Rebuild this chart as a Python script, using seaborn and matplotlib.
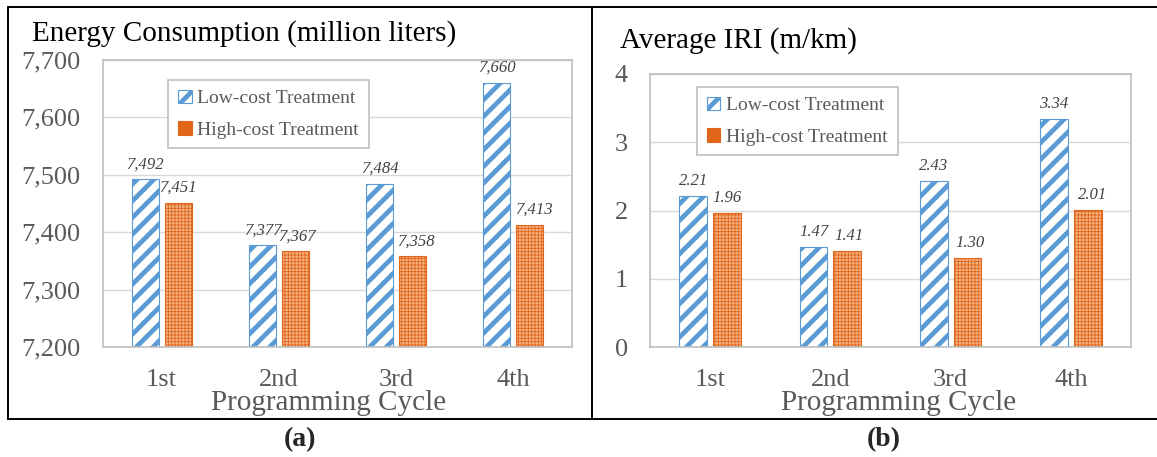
import numpy as np
import pandas as pd
import matplotlib
matplotlib.use("Agg")
import matplotlib.pyplot as plt
import seaborn as sns
from matplotlib.lines import Line2D

cycles = ['1st', '2nd', '3rd', '4th']
treatments = ['Low-cost Treatment', 'High-cost Treatment']
energy_low = [7492, 7377, 7484, 7660]
energy_high = [7451, 7367, 7358, 7413]
iri_low = [2.21, 1.47, 2.43, 3.34]
iri_high = [1.96, 1.41, 1.30, 2.01]

BLUE = '#5B9BD5'
ORANGE = '#ED7D31'
GRAY = '#595959'


def long_df(low, high):
    return pd.DataFrame({
        'Cycle': cycles * 2,
        'Treatment': [treatments[0]] * 4 + [treatments[1]] * 4,
        'Value': list(low) + list(high),
    })


sns.set_style("white")
plt.rcParams['font.family'] = ['Liberation Serif', 'DejaVu Serif']
plt.rcParams['hatch.linewidth'] = 3.4

W, H = 1157, 457
fig = plt.figure(figsize=(W / 100, H / 100), dpi=100)


def px_rect(x0, y0, x1, y1):
    return [x0 / W, 1 - y1 / H, (x1 - x0) / W, (y1 - y0) / H]


def draw_panel(ax, df, ylim, yticks, yfmt, lblfmt, legend_anchor):
    sns.barplot(data=df, x='Cycle', y='Value', hue='Treatment',
                hue_order=treatments, order=cycles, width=0.56, gap=0.18,
                ax=ax, legend=False, errorbar=None)
    low, high = ax.containers[0], ax.containers[1]
    for p in low:
        p.set_facecolor('white')
        p.set_edgecolor(BLUE)
        p.set_linewidth(0.8)
        p.set_hatch('//')
    for p in high:
        p.set_facecolor('#F4B183')
        p.set_edgecolor('#E0661A')
        p.set_linewidth(0.8)
        p.set_hatch('+++++')
        if hasattr(p, 'set_hatch_linewidth'):
            p.set_hatch_linewidth(0.6)
    ax.set_ylim(*ylim)
    ax.set_yticks(yticks)
    ax.set_yticklabels([yfmt.format(v) for v in yticks])
    ax.grid(axis='y', color='#D9D9D9', linewidth=1)
    ax.set_axisbelow(True)
    for s in ax.spines.values():
        s.set_visible(True)
        s.set_color('#BFBFBF')
        s.set_linewidth(1.2)
    ax.tick_params(axis='both', length=0, labelsize=19, labelcolor=GRAY)
    ax.tick_params(axis='y', pad=16)
    ax.tick_params(axis='x', pad=16)
    ax.set_ylabel('')
    ax.bar_label(low, fmt=lblfmt, padding=5, fontsize=12,
                 fontstyle='italic', color='#404040')
    hl = ax.bar_label(high, fmt=lblfmt, padding=5, fontsize=12,
                      fontstyle='italic', color='#404040')
    # high-cost labels sit slightly right of their bars
    for t, p in zip(hl, high):
        t.set_position((p.get_x() + p.get_width() * 0.78, t.get_position()[1]))
    leg = ax.legend([low, high], treatments, loc='upper left',
                    bbox_to_anchor=legend_anchor, borderaxespad=0,
                    fontsize=14, frameon=True, fancybox=False,
                    edgecolor='#BFBFBF', framealpha=1, handlelength=0.7,
                    handleheight=0.7, handletextpad=0.3, labelspacing=0.7,
                    borderpad=0.5)
    for t in leg.get_texts():
        t.set_color(GRAY)
    leg.get_frame().set_linewidth(1.2)


ax_a = fig.add_axes(px_rect(103, 60, 572, 347))
draw_panel(ax_a, long_df(energy_low, energy_high), (7200, 7700),
           [7200, 7300, 7400, 7500, 7600, 7700], '{:,.0f}', '{:,.0f}',
           (0.139, 0.93))
ax_a.set_xlabel('Programming Cycle', fontsize=21, color=GRAY)
ax_a.xaxis.set_label_coords(0.48, -0.2195)
ax_a.xaxis.label.set_va('baseline')

ax_b = fig.add_axes(px_rect(650, 74, 1131, 347))
draw_panel(ax_b, long_df(iri_low, iri_high), (0, 4),
           [0, 1, 2, 3, 4], '{:.0f}', '{:.2f}', (0.098, 0.952))
ax_b.set_xlabel('Programming Cycle', fontsize=21, color=GRAY)
ax_b.xaxis.set_label_coords(0.516, -0.2308)
ax_b.xaxis.label.set_va('baseline')

# panel titles
fig.text(32 / W, 1 - 41 / H, 'Energy Consumption (million liters)',
         fontsize=21, color='black', va='baseline', ha='left')
fig.text(620 / W, 1 - 48 / H, 'Average IRI (m/km)',
         fontsize=21, color='black', va='baseline', ha='left')

# captions
fig.text(300 / W, 1 - 440 / H, '(a)', fontsize=20, fontweight='bold',
         ha='center', va='center')
fig.text(884 / W, 1 - 440 / H, '(b)', fontsize=20, fontweight='bold',
         ha='center', va='center')

# outer frame
def fig_line(x0, y0, x1, y1):
    fig.add_artist(Line2D([x0 / W, x1 / W], [1 - y0 / H, 1 - y1 / H],
                          transform=fig.transFigure, color='black',
                          linewidth=1.4))

fig_line(8, 7, W, 7)
fig_line(8, 419, W, 419)
fig_line(8, 7, 8, 419)
fig_line(592, 7, 592, 419)

fig.savefig('out.png', dpi=100)
